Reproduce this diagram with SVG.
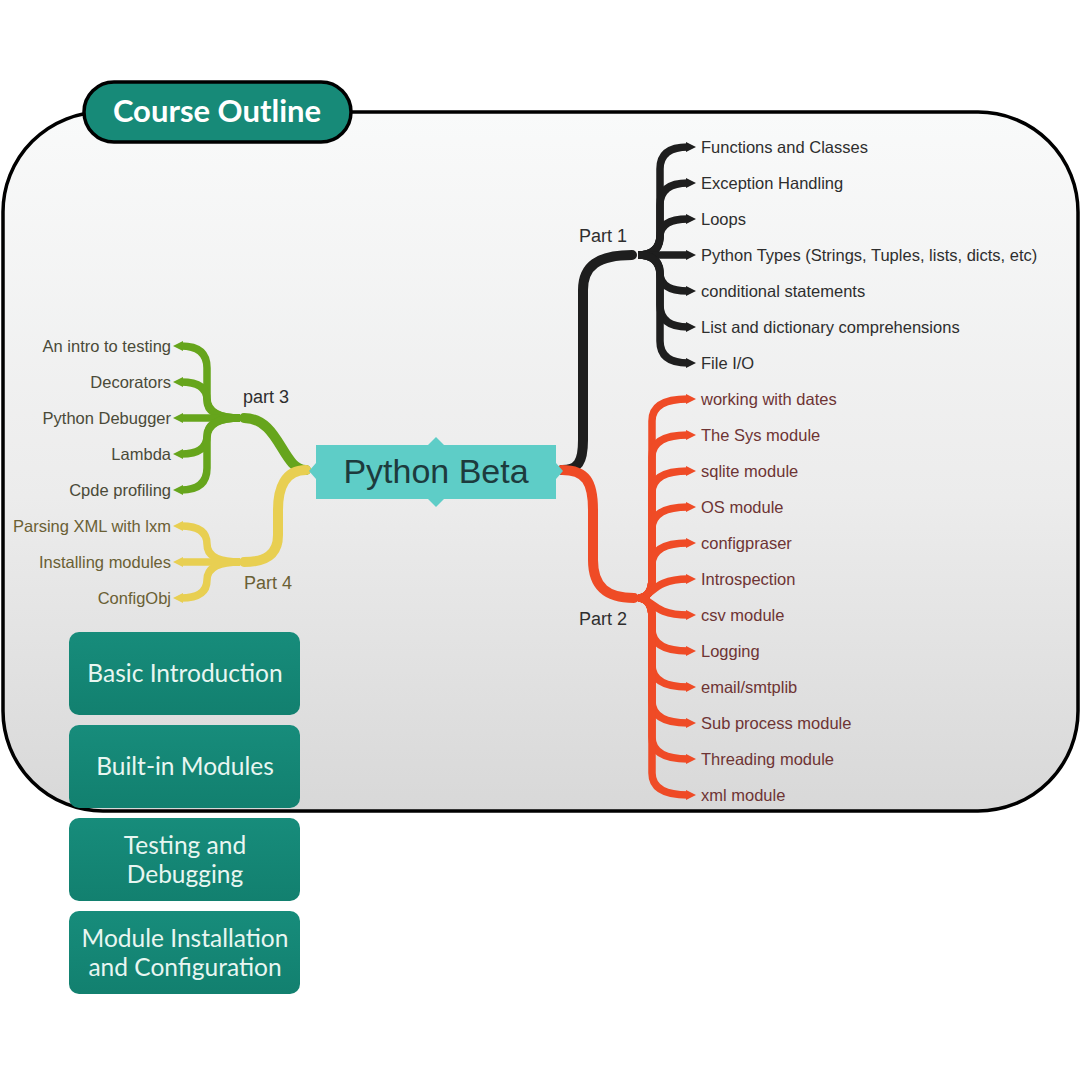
<svg xmlns="http://www.w3.org/2000/svg" width="1080" height="1080" viewBox="0 0 1080 1080">
<defs>
<linearGradient id="bg" x1="0" y1="0" x2="0" y2="1">
<stop offset="0" stop-color="#f9fafa"/>
<stop offset="0.55" stop-color="#ececec"/>
<stop offset="1" stop-color="#d8d8d8"/>
</linearGradient>
<linearGradient id="box" x1="0" y1="0" x2="0" y2="1">
<stop offset="0" stop-color="#178c7b"/>
<stop offset="1" stop-color="#12806f"/>
</linearGradient>
<marker id="mk" viewBox="0 0 10 10" refX="2" refY="5" markerWidth="1.35" markerHeight="1.5" orient="auto"><path d="M0,0 L10,5 L0,10 z" fill="#1e1e1e"/></marker>
<marker id="mr" viewBox="0 0 10 10" refX="2" refY="5" markerWidth="1.35" markerHeight="1.5" orient="auto"><path d="M0,0 L10,5 L0,10 z" fill="#ef4b26"/></marker>
<marker id="mg" viewBox="0 0 10 10" refX="2" refY="5" markerWidth="1.35" markerHeight="1.5" orient="auto"><path d="M0,0 L10,5 L0,10 z" fill="#66a51c"/></marker>
<marker id="my" viewBox="0 0 10 10" refX="2" refY="5" markerWidth="1.35" markerHeight="1.5" orient="auto"><path d="M0,0 L10,5 L0,10 z" fill="#e8cf52"/></marker>
</defs>
<style>
.main{fill:none;stroke-width:10;stroke-linecap:round}
.leaf{fill:none;stroke-width:7.5;stroke-linecap:butt;stroke-linejoin:round}
.k{stroke:#1e1e1e}.r{stroke:#ef4b26}.g{stroke:#66a51c}.y{stroke:#e8cf52}
.k .leaf{marker-end:url(#mk)}.r .leaf{marker-end:url(#mr)}.g .leaf{marker-end:url(#mg)}.y .leaf{marker-end:url(#my)}
.t{font-family:"Liberation Sans",Arial,sans-serif;font-size:16.5px}
.tk{fill:#2e2e2e}.tr{fill:#6e3434}.tg{fill:#4a4a38}.ty{fill:#6a6034}
.part{font-family:"Liberation Sans",Arial,sans-serif;font-size:18px}
.btxt{font-family:Lato,"Open Sans",sans-serif;font-size:24.5px;fill:#e8f6f1;text-anchor:middle}
.bx{fill:url(#box)}
</style>
<rect width="1080" height="1080" fill="#ffffff"/>
<rect id="frame" x="3" y="112" width="1075" height="699" rx="100" ry="100" fill="url(#bg)" stroke="#000" stroke-width="3.5"/>

<g id="connectors">
<g class="k">
<path class="main" d="M562,470 C578,470 583,462 583,440 L583,290 C583,266 598,255 632,255"/>
<path class="leaf" d="M638,255 Q660,255 660,235 L660,169 Q660,147 688,147"/>
<path class="leaf" d="M638,255 Q660,255 660,235 L660,205 Q660,183 688,183"/>
<path class="leaf" d="M638,255 Q660,255 660,237 Q660,219 688,219"/>
<path class="leaf" d="M638,255 L688,255"/>
<path class="leaf" d="M638,255 Q660,255 660,273 Q660,291 688,291"/>
<path class="leaf" d="M638,255 Q660,255 660,275 L660,305 Q660,327 688,327"/>
<path class="leaf" d="M638,255 Q660,255 660,275 L660,341 Q660,363 688,363"/>
</g>
<g class="r">
<path class="main" d="M562,470 C586,470 593,482 593,510 L593,560 C593,588 608,598 634,598"/>
<path class="leaf" d="M638,598 Q652,598 652,578 L652,421 Q652,399 688,399"/>
<path class="leaf" d="M638,598 Q652,598 652,578 L652,457 Q652,435 688,435"/>
<path class="leaf" d="M638,598 Q652,598 652,578 L652,493 Q652,471 688,471"/>
<path class="leaf" d="M638,598 Q652,598 652,578 L652,529 Q652,507 688,507"/>
<path class="leaf" d="M638,598 Q652,598 652,578 L652,565 Q652,543 688,543"/>
<path class="leaf" d="M638,598 C652,598 652,579 688,579"/>
<path class="leaf" d="M638,598 C652,598 652,615 688,615"/>
<path class="leaf" d="M638,598 Q652,598 652,618 L652,629 Q652,651 688,651"/>
<path class="leaf" d="M638,598 Q652,598 652,618 L652,665 Q652,687 688,687"/>
<path class="leaf" d="M638,598 Q652,598 652,618 L652,701 Q652,723 688,723"/>
<path class="leaf" d="M638,598 Q652,598 652,618 L652,737 Q652,759 688,759"/>
<path class="leaf" d="M638,598 Q652,598 652,618 L652,773 Q652,795 688,795"/>
</g>
<g class="g">
<path class="main" d="M306,470 C282,470 280,418 244,418"/>
<path class="leaf" d="M240,418 Q207,418 207,398 L207,368 Q207,346 181,346"/>
<path class="leaf" d="M240,418 Q207,418 207,400 Q207,382 181,382"/>
<path class="leaf" d="M240,418 L181,418"/>
<path class="leaf" d="M240,418 Q207,418 207,436 Q207,454 181,454"/>
<path class="leaf" d="M240,418 Q207,418 207,438 L207,468 Q207,490 181,490"/>
</g>
<g class="y">
<path class="main" d="M306,470 C285,470 278,488 278,510 L278,535 C278,555 265,562 244,562"/>
<path class="leaf" d="M240,562 Q207,562 207,544 Q207,526 181,526"/>
<path class="leaf" d="M240,562 L181,562"/>
<path class="leaf" d="M240,562 Q207,562 207,580 Q207,598 181,598"/>
</g>
</g>

<g id="center">
<rect x="316" y="445" width="240" height="54" fill="#5ecdc7"/>
<polygon points="428,445 436,437 444,445" fill="#5ecdc7"/>
<polygon points="428,499 436,507 444,499" fill="#5ecdc7"/>
<polygon points="316,463 309,471 316,479" fill="#5ecdc7"/>
<polygon points="556,463 563,471 556,479" fill="#5ecdc7"/>
<text x="436" y="483" text-anchor="middle" font-family="Liberation Sans,Arial,sans-serif" font-size="34" fill="#1d3b3d">Python Beta</text>
</g>

<g id="part1"><text class="part tk" x="579" y="242">Part 1</text></g>
<g id="part2"><text class="part tk" x="579" y="625">Part 2</text></g>
<g id="part3"><text class="part tk" x="243" y="403">part 3</text></g>
<g id="part4"><text class="part ty" x="244" y="589">Part 4</text></g>

<g id="leaves-part1" class="t tk">
<text x="701" y="153">Functions and Classes</text>
<text x="701" y="189">Exception Handling</text>
<text x="701" y="225">Loops</text>
<text x="701" y="261">Python Types (Strings, Tuples, lists, dicts, etc)</text>
<text x="701" y="297">conditional statements</text>
<text x="701" y="333">List and dictionary comprehensions</text>
<text x="701" y="369">File I/O</text>
</g>
<g id="leaves-part2" class="t tr">
<text x="701" y="405">working with dates</text>
<text x="701" y="441">The Sys module</text>
<text x="701" y="477">sqlite module</text>
<text x="701" y="513">OS module</text>
<text x="701" y="549">configpraser</text>
<text x="701" y="585">Introspection</text>
<text x="701" y="621">csv module</text>
<text x="701" y="657">Logging</text>
<text x="701" y="693">email/smtplib</text>
<text x="701" y="729">Sub process module</text>
<text x="701" y="765">Threading module</text>
<text x="701" y="801">xml module</text>
</g>
<g id="leaves-part3" class="t tg" text-anchor="end">
<text x="171" y="352">An intro to testing</text>
<text x="171" y="388">Decorators</text>
<text x="171" y="424">Python Debugger</text>
<text x="171" y="460">Lambda</text>
<text x="171" y="496">Cpde profiling</text>
</g>
<g id="leaves-part4" class="t ty" text-anchor="end">
<text x="171" y="532">Parsing XML with lxm</text>
<text x="171" y="568">Installing modules</text>
<text x="171" y="604">ConfigObj</text>
</g>

<g id="course-outline">
<rect x="84" y="82" width="267" height="60" rx="30" fill="#178a78" stroke="#000" stroke-width="3.5"/>
<text x="217" y="122" text-anchor="middle" font-family="Lato,sans-serif" font-weight="700" font-size="31" fill="#ffffff">Course Outline</text>
</g>

<g id="box1"><rect class="bx" x="69" y="632" width="231" height="83" rx="10"/><text class="btxt" x="185" y="682">Basic Introduction</text></g>
<g id="box2"><rect class="bx" x="69" y="725" width="231" height="83" rx="10"/><text class="btxt" x="185" y="775">Built-in Modules</text></g>
<g id="box3"><rect class="bx" x="69" y="818" width="231" height="83" rx="10"/><text class="btxt" x="185" y="854">Testing and</text><text class="btxt" x="185" y="883">Debugging</text></g>
<g id="box4"><rect class="bx" x="69" y="911" width="231" height="83" rx="10"/><text class="btxt" x="185" y="947">Module Installation</text><text class="btxt" x="185" y="976">and Configuration</text></g>
</svg>
